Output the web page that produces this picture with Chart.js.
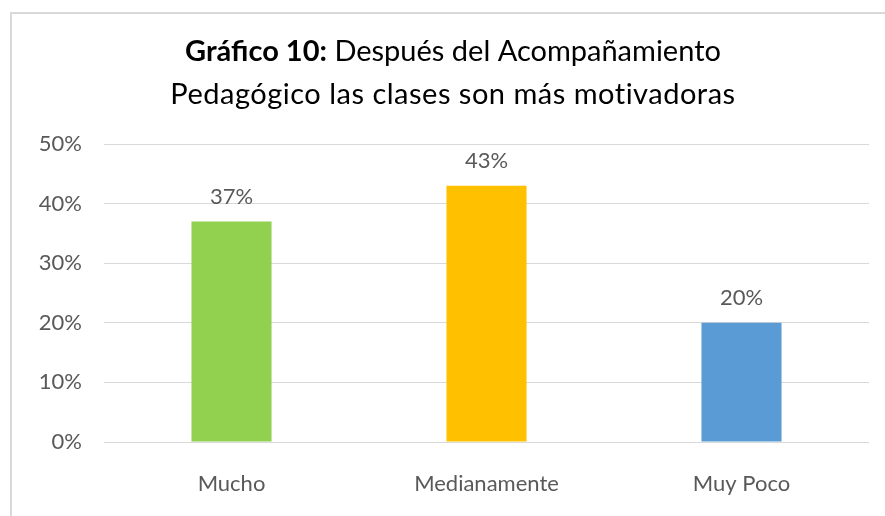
<!DOCTYPE html>
<html>
<head>
<meta charset="utf-8">
<script src="https://cdn.jsdelivr.net/npm/chart.js"></script>
<style>
  html, body { margin: 0; padding: 0; background: #ffffff; }
  #wrap { position: relative; width: 885px; height: 516px; }
  #frame { position: absolute; left: 10px; top: 12px; right: 0; bottom: 0;
           border-left: 2px solid #d9d9d9; border-top: 2px solid #d9d9d9; }
  canvas { position: absolute; left: 0; top: 0; }
</style>
</head>
<body>
<div id="wrap">
  <div id="frame"></div>
  <canvas id="myChart" width="885" height="516"></canvas>
</div>
<script>
const categories = ['Mucho', 'Medianamente', 'Muy Poco'];
const values = [37, 43, 20];
const barColors = ['#92d050', '#ffc000', '#5b9bd5'];
const titleBold = 'Gráfico 10:';
const titleRest = ' Después del Acompañamiento';
const titleLine2 = 'Pedagógico las clases son más motivadoras';

const FONT = 'Lato, "Open Sans", sans-serif';
const GRAY = '#595959';

// two-line title with a bold lead-in
const titlePlugin = {
  id: 'mixedTitle',
  afterDraw(chart) {
    const ctx = chart.ctx;
    const cx = 453;
    ctx.save();
    ctx.fillStyle = '#000000';
    ctx.textBaseline = 'middle';
    ctx.textAlign = 'left';
    const bold = 'bold 29px ' + FONT;
    const normal = '29px ' + FONT;
    ctx.font = bold;
    const wb = ctx.measureText(titleBold).width;
    ctx.font = normal;
    const wr = ctx.measureText(titleRest).width;
    let x = cx - (wb + wr) / 2;
    ctx.font = bold;
    ctx.fillText(titleBold, x, 52);
    ctx.font = normal;
    ctx.fillText(titleRest, x + wb, 52);
    ctx.textAlign = 'center';
    ctx.letterSpacing = '0.5px';
    ctx.fillText(titleLine2, cx, 95);
    ctx.restore();
  }
};

// value labels above bars
const valueLabels = {
  id: 'valueLabels',
  afterDatasetsDraw(chart) {
    const ctx = chart.ctx;
    const meta = chart.getDatasetMeta(0);
    ctx.save();
    ctx.fillStyle = GRAY;
    ctx.font = '22px ' + FONT;
    ctx.textAlign = 'center';
    ctx.textBaseline = 'middle';
    meta.data.forEach((bar, i) => {
      ctx.fillText(values[i] + '%', bar.x, bar.y - 25);
    });
    ctx.restore();
  }
};

new Chart(document.getElementById('myChart').getContext('2d'), {
  type: 'bar',
  data: {
    labels: categories,
    datasets: [{
      data: values,
      backgroundColor: barColors,
      barPercentage: 0.314,
      categoryPercentage: 1
    }]
  },
  options: {
    responsive: false,
    animation: false,
    layout: { padding: { top: 144, right: 16, left: 0, bottom: 0 } },
    plugins: { legend: { display: false }, tooltip: { enabled: false } },
    scales: {
      x: {
        grid: { display: false, drawTicks: false },
        border: { display: false },
        ticks: { color: GRAY, font: { family: FONT, size: 22 }, padding: 29 },
        afterFit(scale) { scale.height = 74; }
      },
      y: {
        min: 0, max: 50,
        grid: { color: '#d9d9d9', drawTicks: false },
        border: { display: false },
        ticks: { stepSize: 10, color: GRAY, font: { family: FONT, size: 22 }, padding: 22,
                 callback: v => v + '%' },
        afterFit(scale) { scale.width = 104; }
      }
    }
  },
  plugins: [titlePlugin, valueLabels]
});
</script>
</body>
</html>
